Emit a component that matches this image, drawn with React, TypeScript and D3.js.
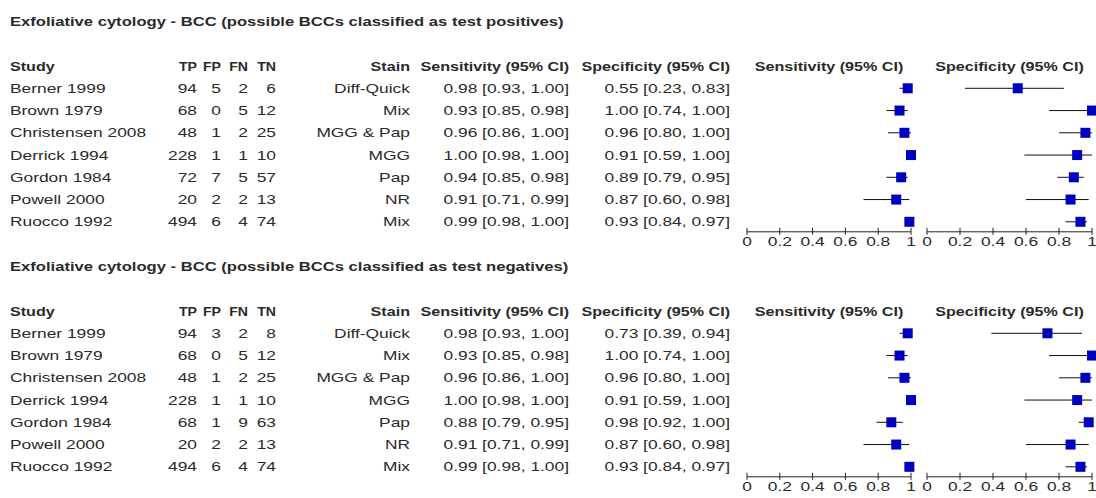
import React from "react";
import * as d3 from "d3";

const studies = ["Berner 1999", "Brown 1979", "Christensen 2008", "Derrick 1994", "Gordon 1984", "Powell 2000", "Ruocco 1992"];
const stains = ["Diff-Quick", "Mix", "MGG & Pap", "MGG", "Pap", "NR", "Mix"];

// TP, FP, FN, TN
const countsPositive = [[94, 5, 2, 6], [68, 0, 5, 12], [48, 1, 2, 25], [228, 1, 1, 10], [72, 7, 5, 57], [20, 2, 2, 13], [494, 6, 4, 74]];
const countsNegative = [[94, 3, 2, 8], [68, 0, 5, 12], [48, 1, 2, 25], [228, 1, 1, 10], [68, 1, 9, 63], [20, 2, 2, 13], [494, 6, 4, 74]];

// estimate, lower, upper
const sensPositive = [[0.98, 0.93, 1.0], [0.93, 0.85, 0.98], [0.96, 0.86, 1.0], [1.0, 0.98, 1.0], [0.94, 0.85, 0.98], [0.91, 0.71, 0.99], [0.99, 0.98, 1.0]];
const specPositive = [[0.55, 0.23, 0.83], [1.0, 0.74, 1.0], [0.96, 0.8, 1.0], [0.91, 0.59, 1.0], [0.89, 0.79, 0.95], [0.87, 0.6, 0.98], [0.93, 0.84, 0.97]];
const sensNegative = [[0.98, 0.93, 1.0], [0.93, 0.85, 0.98], [0.96, 0.86, 1.0], [1.0, 0.98, 1.0], [0.88, 0.79, 0.95], [0.91, 0.71, 0.99], [0.99, 0.98, 1.0]];
const specNegative = [[0.73, 0.39, 0.94], [1.0, 0.74, 1.0], [0.96, 0.8, 1.0], [0.91, 0.59, 1.0], [0.98, 0.92, 1.0], [0.87, 0.6, 0.98], [0.93, 0.84, 0.97]];

const titles = [
  "Exfoliative cytology - BCC (possible BCCs classified as test positives)",
  "Exfoliative cytology - BCC (possible BCCs classified as test negatives)",
];
const countHeaders = ["TP", "FP", "FN", "TN"];
const tickValues = [0, 0.2, 0.4, 0.6, 0.8, 1];
const tickLabels = ["0", "0.2", "0.4", "0.6", "0.8", "1"];

const W = 1096;
const H = 498;
const SX = 1.39;
const SX_BOLD = 1.29;
const FS = 12.5;
const COLOR = "#2a2a2a";
const FONT = "'Liberation Sans', Arial, sans-serif";

const fmt = d3.format(".2f");
const ci = (v: number[]) => `${fmt(v[0])} [${fmt(v[1])}, ${fmt(v[2])}]`;

function T({ x, y, anchor = "start", bold = false, sx, children }: any) {
  const s = sx ?? (bold ? SX_BOLD : SX);
  return (
    <text
      transform={`translate(${x},${y}) scale(${s},1)`}
      textAnchor={anchor}
      fontFamily={FONT}
      fontSize={FS}
      fontWeight={bold ? "bold" : "normal"}
      fill={COLOR}
    >
      {children}
    </text>
  );
}

const countX = [197, 221, 248, 276];
const stainX = 410;
const sensTextX = 569;
const specTextX = 730;

const xSens = d3.scaleLinear().domain([0, 1]).range([747, 911]);
const xSpec = d3.scaleLinear().domain([0, 1]).range([927, 1092]);

function Forest({ scale, values, rowY, axisY }: any) {
  const box = 10;
  return (
    <g>
      {values.map((v: number[], i: number) => (
        <g key={i}>
          <line x1={scale(v[1])} x2={scale(v[2])} y1={rowY(i)} y2={rowY(i)} stroke="#111" strokeWidth={1} />
          <rect x={scale(v[0]) - box / 2} y={rowY(i) - box / 2} width={box} height={box} fill="#0000BF" />
        </g>
      ))}
      <line x1={scale(0)} x2={scale(1)} y1={axisY} y2={axisY} stroke="#222" strokeWidth={1} />
      {tickValues.map((t, i) => (
        <g key={i}>
          <line x1={scale(t)} x2={scale(t)} y1={axisY - 4} y2={axisY + 3} stroke="#222" strokeWidth={1} />
          <T x={scale(t)} y={axisY + 14} anchor="middle">{tickLabels[i]}</T>
        </g>
      ))}
    </g>
  );
}

function Section({ top, title, counts, sens, spec }: any) {
  const headerY = top + 45;
  const rowY = (i: number) => headerY + 21.6 + i * 22.25;
  const axisY = rowY(6) + 10;
  const base = (c: number) => c + 4.5;
  return (
    <g>
      <T x={10} y={base(top)} bold sx={1.33}>{title}</T>
      <T x={10} y={base(headerY)} bold>Study</T>
      {countHeaders.map((h, i) => (
        <T key={h} x={countX[i]} y={base(headerY)} anchor="end" bold sx={1.13}>{h}</T>
      ))}
      <T x={stainX} y={base(headerY)} anchor="end" bold>Stain</T>
      <T x={sensTextX} y={base(headerY)} anchor="end" bold>Sensitivity (95% CI)</T>
      <T x={specTextX} y={base(headerY)} anchor="end" bold>Specificity (95% CI)</T>
      <T x={(xSens(0) + xSens(1)) / 2} y={base(headerY)} anchor="middle" bold>Sensitivity (95% CI)</T>
      <T x={(xSpec(0) + xSpec(1)) / 2} y={base(headerY)} anchor="middle" bold>Specificity (95% CI)</T>
      {studies.map((s, i) => (
        <g key={s}>
          <T x={10} y={base(rowY(i))}>{s}</T>
          {counts[i].map((c: number, j: number) => (
            <T key={j} x={countX[j]} y={base(rowY(i))} anchor="end">{c}</T>
          ))}
          <T x={stainX} y={base(rowY(i))} anchor="end">{stains[i]}</T>
          <T x={sensTextX} y={base(rowY(i))} anchor="end">{ci(sens[i])}</T>
          <T x={specTextX} y={base(rowY(i))} anchor="end">{ci(spec[i])}</T>
        </g>
      ))}
      <Forest scale={xSens} values={sens} rowY={rowY} axisY={axisY} />
      <Forest scale={xSpec} values={spec} rowY={rowY} axisY={axisY} />
    </g>
  );
}

export default function App() {
  return (
    <svg
      width={W}
      height={H}
      viewBox={`0 0 ${W} ${H}`}
      style={{ position: "absolute", left: 0, top: 0, background: "#fff" }}
    >
      <rect width={W} height={H} fill="#fff" />
      <Section top={21.7} title={titles[0]} counts={countsPositive} sens={sensPositive} spec={specPositive} />
      <Section top={266.7} title={titles[1]} counts={countsNegative} sens={sensNegative} spec={specNegative} />
    </svg>
  );
}
